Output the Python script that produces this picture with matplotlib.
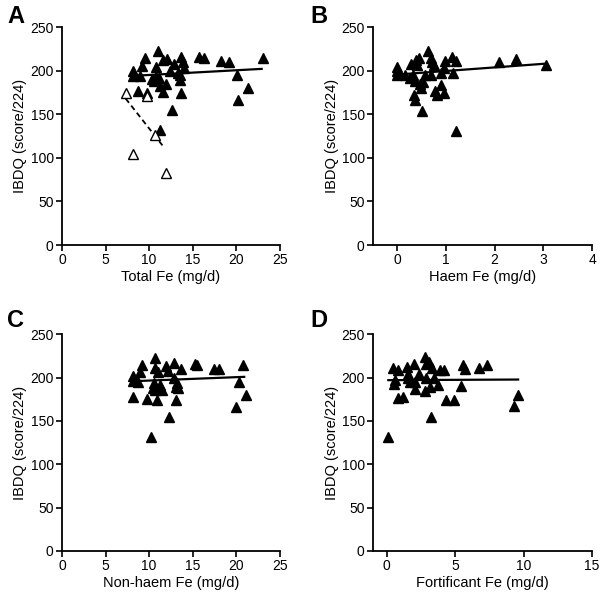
import numpy as np
import matplotlib
matplotlib.use('Agg')
from matplotlib import pyplot as plt

plt.rcParams['font.family'] = ['Liberation Sans', 'DejaVu Sans']

# Panel A - total Fe
a_x = [8.1, 8.2, 8.9, 9.2, 9.5, 8.7, 9.7, 11.0, 10.8, 10.6, 10.8, 11.1, 11.2,
       11.6, 12.1, 11.6, 11.9, 12.8, 12.6, 11.2, 13.7, 13.9, 14.0, 13.3, 13.5,
       13.5, 13.7, 15.7, 16.3, 18.2, 19.2, 20.1, 20.2, 21.3, 23.0, 10.3, 12.4]
a_y = [200, 194, 194, 205, 214, 176.5, 174, 223, 204, 188, 193, 191, 182,
       212, 213, 175, 185, 208, 155, 131.5, 216, 210, 203, 197, 189,
       195, 174, 216, 215, 211.5, 210, 195, 166, 180, 214, 190, 199]
a_open_x = [7.3, 8.2, 9.7, 10.65, 11.9]
a_open_y = [174, 104.6, 171, 126, 82.7]
a_fit_x = [8.1, 22.9]
a_fit_y = [194, 202]
a_dash_x = [7.3, 11.7]
a_dash_y = [168, 112]

# Panel B - haem Fe
b_x = [0.0, 0.0, 0.0, 0.15, 0.26, 0.29, 0.32, 0.34, 0.36, 0.37, 0.39, 0.41,
       0.44, 0.46, 0.49, 0.51, 0.53, 0.56, 0.63, 0.69, 0.71, 0.75, 0.69, 0.77,
       0.82, 0.89, 0.90, 0.96, 0.96, 0.98, 1.12, 1.15, 1.21, 1.21, 2.09, 2.43,
       3.05]
b_y = [204, 200, 195, 195, 191, 208, 195, 172, 166, 188, 212, 206,
       214, 185, 180, 154, 187, 195, 223, 214, 210, 206, 195, 177,
       172, 183.5, 197, 203, 174, 211.5, 216, 197, 211.5, 131, 209.6, 213.5,
       207]
b_fit_x = [0.0, 3.05]
b_fit_y = [195.5, 208]

# Panel C - non-haem Fe
c_x = [8.2, 8.2, 8.7, 9.0, 9.2, 8.2, 9.7, 10.7, 10.7, 11.0, 10.5, 10.4, 10.7,
       10.85, 11.2, 11.5, 11.9, 12.2, 12.8, 12.8, 13.1, 13.2, 13.3, 13.6, 13.1,
       12.3, 10.2, 15.3, 15.5, 17.4, 18.0, 20.8, 20.3, 21.1, 20.0]
c_y = [202, 196, 195, 206, 215, 177, 175, 223, 211.5, 206, 194, 188, 186,
       174, 191.5, 186, 213.5, 207, 217, 199, 189, 194, 188, 210, 174,
       154, 131, 216, 215, 210, 210, 214.6, 195, 180, 166]
c_fit_x = [8.2, 20.9]
c_fit_y = [195.8, 200.8]

# Panel D - fortificant Fe
d_x = [0.07, 0.49, 0.8, 0.61, 0.56, 0.85, 1.17, 1.46, 1.54, 1.59, 1.7, 2.02,
       2.07, 2.07, 2.37, 2.8, 2.88, 3.1, 2.9, 2.83, 3.17, 3.22, 3.34, 3.46,
       3.73, 3.9, 4.15, 4.3, 4.9, 5.4, 5.56, 5.7, 6.76, 7.3, 9.3, 9.6]
d_y = [131.5, 211.5, 208.5, 197, 192, 176, 177, 212, 204.6, 199, 195, 216,
       195, 186.5, 204.6, 224, 216, 218, 199, 184, 189, 154.6, 211.5, 199,
       191, 208.5, 209, 174, 174, 190, 215, 210, 211.5, 215, 167, 180]
d_fit_x = [0.12, 9.6]
d_fit_y = [197, 197.7]

panels = [
    ('A', a_x, a_y, a_fit_x, a_fit_y, 'Total Fe (mg/d)', (0, 25), [0, 5, 10, 15, 20, 25]),
    ('B', b_x, b_y, b_fit_x, b_fit_y, 'Haem Fe (mg/d)', (-0.5, 4), [0, 1, 2, 3, 4]),
    ('C', c_x, c_y, c_fit_x, c_fit_y, 'Non-haem Fe (mg/d)', (0, 25), [0, 5, 10, 15, 20, 25]),
    ('D', d_x, d_y, d_fit_x, d_fit_y, 'Fortificant Fe (mg/d)', (-1, 15), [0, 5, 10, 15]),
]

# axes boxes in figure fractions
boxes = [
    [0.1033, 0.5875, 0.3633, 0.367],
    [0.6217, 0.5875, 0.365, 0.367],
    [0.1033, 0.0724, 0.3633, 0.365],
    [0.6217, 0.0724, 0.365, 0.365],
]
letter_pos = [(0.012, 0.972), (0.518, 0.972), (0.012, 0.46), (0.518, 0.46)]

fig = plt.figure(figsize=(6, 5.94), dpi=100)

for (letter, x, y, fx, fy, xlabel, xlim, xticks), box, lp in zip(panels, boxes, letter_pos):
    ax = fig.add_axes(box)
    ax.plot(x, y, ls='none', marker='^', color='black', ms=7, zorder=3)
    ax.plot(fx, fy, color='black', lw=1.6, zorder=2)
    if letter == 'A':
        ax.plot(a_open_x, a_open_y, ls='none', marker='^', mfc='white',
                mec='black', mew=1.0, ms=7, zorder=4)
        ax.plot(a_dash_x, a_dash_y, color='black', lw=1.3, ls=(0, (3, 2)), zorder=2)
    ax.set_xlim(xlim)
    ax.set_ylim(0, 250)
    ax.set_xticks(xticks)
    ax.set_yticks([0, 50, 100, 150, 200, 250])
    ax.spines['top'].set_visible(False)
    ax.spines['right'].set_visible(False)
    for s in ['left', 'bottom']:
        ax.spines[s].set_linewidth(1.3)
    ax.tick_params(direction='out', length=4, width=1.2, labelsize=10, pad=2)
    ax.set_xlabel(xlabel, fontsize=10.5, labelpad=2)
    ax.set_ylabel('IBDQ (score/224)', fontsize=10.5, labelpad=2)
    fig.text(lp[0], lp[1], letter, fontsize=17, fontweight='bold', va='center')

fig.savefig('out.png', dpi=100)
